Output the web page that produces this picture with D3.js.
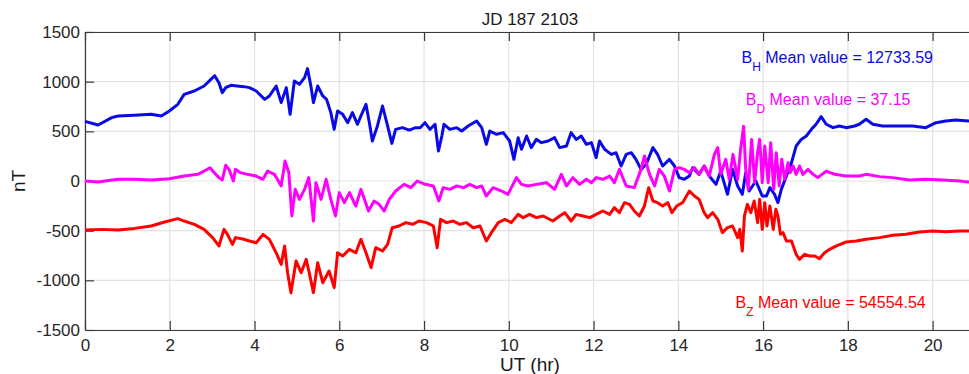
<!DOCTYPE html>
<html>
<head>
<meta charset="utf-8">
<script src="https://cdn.jsdelivr.net/npm/d3@7"></script>
<style>
  body { margin: 0; background: #fff; }
  text { font-family: "Liberation Sans", Arial, Helvetica, sans-serif; }
</style>
</head>
<body>
<svg id="chart" width="969" height="374"></svg>
<script>
// DATA
var title = "JD 187 2103";
var xTicks = [0, 2, 4, 6, 8, 10, 12, 14, 16, 18, 20];
var yTicks = [-1500, -1000, -500, 0, 500, 1000, 1500];

// [UT hour, nT]
var bH = [[0,600],[0.31,564],[0.63,638],[0.78,654],[1.17,661],[1.56,671],[1.8,654],[1.99,705],[2.19,772],[2.34,872],
  [2.58,906],[2.81,956],[2.97,1023],[3.06,1060],[3.16,990],[3.24,889],[3.32,940],[3.44,963],[3.59,956],[3.75,950],
  [3.88,940],[4.04,906],[4.24,822],[4.35,856],[4.51,956],[4.63,789],[4.75,940],[4.84,671],[4.94,1007],[5.06,973],
  [5.18,1040],[5.25,1131],[5.33,956],[5.39,789],[5.49,956],[5.61,856],[5.7,822],[5.8,688],[5.88,520],[5.96,705],
  [6.08,671],[6.2,587],[6.31,688],[6.43,571],[6.51,654],[6.63,772],[6.71,587],[6.78,403],[6.9,554],[7.02,755],
  [7.14,554],[7.24,379],[7.33,520],[7.49,537],[7.65,513],[7.8,537],[7.91,537],[8.02,587],[8.14,520],[8.26,571],
  [8.34,302],[8.42,453],[8.47,571],[8.61,520],[8.77,537],[8.89,503],[9.04,554],[9.24,604],[9.36,537],[9.47,369],
  [9.55,503],[9.71,470],[9.87,487],[10.02,403],[10.12,218],[10.22,436],[10.3,319],[10.42,453],[10.53,336],[10.65,419],
  [10.77,386],[10.93,403],[11.08,436],[11.2,336],[11.36,352],[11.47,487],[11.59,419],[11.71,453],[11.83,369],[11.95,386],
  [12.06,235],[12.14,403],[12.26,319],[12.42,268],[12.53,285],[12.65,151],[12.77,268],[12.89,285],[13.0,218],[13.12,117],
  [13.24,168],[13.4,336],[13.51,268],[13.63,151],[13.79,218],[13.91,151],[14.02,34],[14.14,17],[14.26,50],[14.34,134],
  [14.49,67],[14.61,151],[14.73,50],[14.89,-34],[15.0,100],[15.16,-134],[15.28,117],[15.4,-50],[15.51,-134],[15.59,84],
  [15.67,-101],[15.83,0],[15.98,-151],[16.08,-151],[16.16,-67],[16.27,-134],[16.35,-218],[16.43,-84],[16.55,50],[16.67,185],
  [16.78,352],[16.9,419],[17.02,453],[17.14,520],[17.25,571],[17.37,648],[17.49,571],[17.65,537],[17.8,554],[17.96,537],
  [18.16,554],[18.27,571],[18.43,621],[18.59,571],[18.82,554],[19.06,554],[19.29,554],[19.53,554],[19.84,537],[20.08,587],
  [20.31,604],[20.55,614],[20.84,604],[21.0,595]];

var bD = [[0,0],[0.31,-10],[0.78,17],[1.17,17],[1.56,10],[1.99,23],[2.34,50],[2.66,67],[2.81,100],[2.95,134],
  [3.05,84],[3.16,34],[3.24,10],[3.32,158],[3.4,117],[3.5,0],[3.55,117],[3.67,84],[3.83,67],[4.04,50],
  [4.2,17],[4.31,100],[4.47,67],[4.63,-50],[4.72,201],[4.81,84],[4.88,-352],[4.96,-84],[5.06,-185],[5.18,-84],
  [5.28,34],[5.39,-403],[5.45,-17],[5.57,-185],[5.69,17],[5.8,-185],[5.91,-352],[6.0,-117],[6.12,-218],[6.24,-117],
  [6.39,-252],[6.51,-84],[6.69,-302],[6.82,-201],[6.94,-235],[7.06,-302],[7.18,-185],[7.33,-101],[7.53,-34],[7.69,-67],
  [7.84,0],[8.0,-30],[8.22,-50],[8.35,-201],[8.45,-67],[8.61,-84],[8.77,-50],[8.93,-67],[9.08,-34],[9.24,-67],
  [9.36,-50],[9.47,-151],[9.63,-67],[9.83,-101],[9.98,-134],[10.18,34],[10.3,-34],[10.45,-50],[10.65,-34],[10.89,-17],
  [11.08,-84],[11.24,67],[11.36,-50],[11.51,34],[11.67,-34],[11.83,17],[11.95,-17],[12.06,34],[12.22,17],[12.38,50],
  [12.49,-17],[12.61,117],[12.77,-50],[12.96,-67],[13.12,117],[13.2,252],[13.32,67],[13.44,-50],[13.55,117],[13.67,50],
  [13.79,-101],[13.91,117],[14.02,134],[14.14,117],[14.26,84],[14.38,134],[14.49,67],[14.61,151],[14.73,50],[14.85,268],
  [14.93,336],[15.0,67],[15.12,218],[15.2,17],[15.29,268],[15.4,17],[15.47,319],[15.54,550],[15.59,117],[15.65,-84],
  [15.73,419],[15.8,-17],[15.87,285],[15.92,419],[15.98,-17],[16.04,352],[16.12,-17],[16.18,386],[16.25,-84],[16.31,285],
  [16.38,-50],[16.44,218],[16.51,17],[16.59,185],[16.64,84],[16.71,151],[16.78,67],[16.86,151],[16.94,67],[17.06,117],
  [17.18,67],[17.29,34],[17.49,100],[17.69,67],[17.96,50],[18.27,50],[18.43,67],[18.75,44],[19.06,34],[19.45,10],
  [19.84,17],[20.24,10],[20.63,0],[20.84,-10],[21.0,-12]];

var bZ = [[0,-493],[0.39,-487],[0.78,-493],[1.17,-477],[1.56,-453],[1.88,-413],[2.19,-379],[2.34,-403],[2.58,-436],[2.81,-487],
  [3.01,-570],[3.16,-654],[3.28,-487],[3.36,-537],[3.48,-638],[3.55,-570],[3.75,-587],[3.88,-604],[4.04,-621],[4.2,-537],
  [4.35,-587],[4.51,-722],[4.63,-839],[4.71,-654],[4.78,-923],[4.86,-1124],[4.98,-805],[5.1,-923],[5.22,-789],[5.29,-923],
  [5.39,-1124],[5.49,-822],[5.61,-1024],[5.76,-906],[5.88,-1074],[5.96,-722],[6.08,-755],[6.24,-688],[6.39,-722],[6.51,-587],
  [6.63,-722],[6.75,-872],[6.86,-671],[7.02,-705],[7.14,-638],[7.25,-470],[7.41,-453],[7.57,-419],[7.73,-436],[7.88,-403],
  [8.06,-419],[8.22,-453],[8.31,-671],[8.39,-386],[8.53,-419],[8.69,-403],[8.85,-436],[9.0,-419],[9.16,-470],[9.32,-453],
  [9.47,-604],[9.59,-520],[9.75,-419],[9.91,-386],[10.06,-419],[10.22,-336],[10.34,-369],[10.49,-336],[10.65,-369],[10.81,-352],
  [11.04,-403],[11.2,-352],[11.32,-319],[11.47,-403],[11.59,-336],[11.75,-352],[11.91,-369],[12.06,-336],[12.22,-302],[12.38,-336],
  [12.49,-268],[12.61,-319],[12.73,-218],[12.85,-235],[12.96,-302],[13.08,-352],[13.2,-252],[13.3,-67],[13.4,-201],[13.51,-218],
  [13.63,-252],[13.75,-218],[13.85,-319],[13.96,-252],[14.1,-218],[14.26,-101],[14.38,-151],[14.49,-185],[14.61,-319],[14.69,-369],
  [14.81,-319],[14.93,-386],[15.04,-520],[15.16,-470],[15.28,-453],[15.4,-570],[15.45,-487],[15.51,-705],[15.56,-352],[15.63,-235],
  [15.71,-319],[15.79,-201],[15.87,-419],[15.92,-185],[15.98,-487],[16.04,-218],[16.09,-453],[16.16,-252],[16.24,-487],[16.3,-285],
  [16.35,-352],[16.41,-537],[16.47,-520],[16.55,-604],[16.67,-604],[16.78,-738],[16.86,-789],[16.98,-738],[17.1,-755],[17.22,-755],
  [17.33,-782],[17.45,-722],[17.57,-688],[17.73,-654],[17.96,-614],[18.2,-604],[18.43,-587],[18.75,-570],[19.06,-547],[19.37,-537],
  [19.69,-513],[20.0,-503],[20.31,-510],[20.63,-503],[20.84,-503],[21.0,-503]];

var seriesNames = ["H", "D", "Z"];
var meanValues = ["12733.59", "37.15", "54554.54"];

// LAYOUT
var svg = d3.select("#chart");
var plotLeft = 85, plotRight = 975, plotTop = 32, plotBottom = 330;
var colors = { H: "#0a0ae6", D: "#ff00ff", Z: "#ff0000" };
var axisColor = "#3a3a3a";

var x = d3.scaleLinear().domain([0, 21]).range([plotLeft, plotRight]);
var y = d3.scaleLinear().domain([-1500, 1500]).range([plotBottom, plotTop]);

// grid
svg.append("g").selectAll("line")
  .data(xTicks)
  .enter()
  .append("line")
  .attr("x1", function(d) { return x(d); })
  .attr("x2", function(d) { return x(d); })
  .attr("y1", plotTop)
  .attr("y2", plotBottom)
  .attr("stroke", "#e3e3e3")
  .attr("stroke-width", 1.2);

svg.append("g").selectAll("line")
  .data(yTicks)
  .enter()
  .append("line")
  .attr("x1", plotLeft)
  .attr("x2", plotRight)
  .attr("y1", function(d) { return y(d); })
  .attr("y2", function(d) { return y(d); })
  .attr("stroke", "#e3e3e3")
  .attr("stroke-width", 1.2);

// axes, ticks pointing inward
var plainNum = function(d) { return String(d); };
var xAxis = d3.axisBottom(x).tickValues(xTicks).tickSizeInner(-9).tickSizeOuter(0).tickPadding(9).tickFormat(plainNum);
var xTop = d3.axisTop(x).tickValues(xTicks).tickSizeInner(-9).tickSizeOuter(0).tickFormat("");
var yAxis = d3.axisLeft(y).tickValues(yTicks).tickSizeInner(-9).tickSizeOuter(0).tickPadding(5).tickFormat(plainNum);

var gx = svg.append("g").attr("transform", "translate(0," + plotBottom + ")").call(xAxis);
var gt = svg.append("g").attr("transform", "translate(0," + plotTop + ")").call(xTop);
var gy = svg.append("g").attr("transform", "translate(" + plotLeft + ",0)").call(yAxis);

[gx, gt, gy].forEach(function(g) {
  g.select(".domain").attr("stroke", axisColor).attr("stroke-width", 1.2);
  g.selectAll(".tick line").attr("stroke", axisColor).attr("stroke-width", 1.2);
  g.selectAll(".tick text")
    .attr("fill", "#262626")
    .style("font-size", "17px")
    .style("font-family", "'Liberation Sans', Arial, sans-serif");
});

// lines
var line = d3.line()
  .x(function(d) { return x(d[0]); })
  .y(function(d) { return y(d[1]); });

var drawOrder = [["Z", bZ], ["H", bH], ["D", bD]];
drawOrder.forEach(function(s) {
  svg.append("path")
    .datum(s[1])
    .attr("d", line)
    .attr("fill", "none")
    .attr("stroke", colors[s[0]])
    .attr("stroke-width", 3)
    .attr("stroke-linejoin", "round");
});

// title and axis labels
svg.append("text")
  .attr("x", (plotLeft + plotRight) / 2)
  .attr("y", 25)
  .attr("text-anchor", "middle")
  .attr("fill", "#1a1a1a")
  .style("font-size", "17px")
  .text(title);

svg.append("text")
  .attr("x", (plotLeft + plotRight) / 2)
  .attr("y", 371)
  .attr("text-anchor", "middle")
  .attr("fill", "#1a1a1a")
  .style("font-size", "19px")
  .text("UT (hr)");

svg.append("text")
  .attr("transform", "translate(25," + y(0) + ") rotate(-90)")
  .attr("text-anchor", "middle")
  .attr("fill", "#1a1a1a")
  .style("font-size", "19px")
  .text("nT");

// mean value notes
var notePos = { H: [15.49, 1187], D: [15.59, 765], Z: [15.35, -1275] };
seriesNames.forEach(function(name, i) {
  var t = svg.append("text")
    .attr("x", x(notePos[name][0]))
    .attr("y", y(notePos[name][1]))
    .attr("fill", colors[name])
    .style("font-size", "16px");
  t.append("tspan").text("B");
  t.append("tspan").attr("dy", 8).style("font-size", "12px").text(name);
  t.append("tspan").attr("dy", -8).text(" Mean value = " + meanValues[i]);
});
</script>
</body>
</html>
